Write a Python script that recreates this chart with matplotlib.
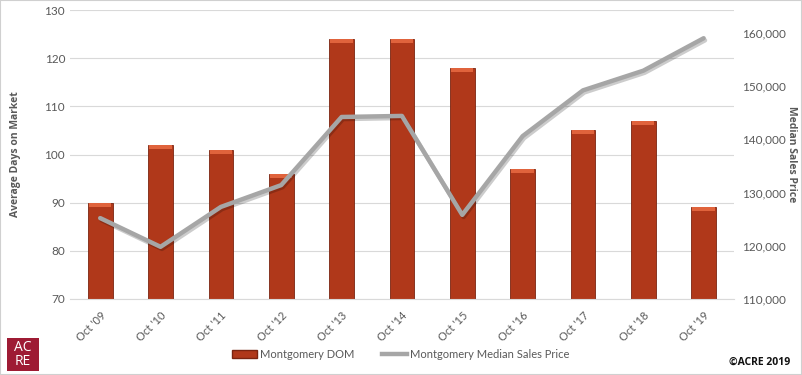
import numpy as np
import matplotlib.pyplot as plt
import matplotlib.patheffects as pe
from matplotlib.patches import Rectangle, Patch
from matplotlib.lines import Line2D
from matplotlib.ticker import FuncFormatter

# DATA
years = ["Oct '09", "Oct '10", "Oct '11", "Oct '12", "Oct '13", "Oct '14",
         "Oct '15", "Oct '16", "Oct '17", "Oct '18", "Oct '19"]
dom = [90, 102, 101, 96, 124, 124, 118, 97, 105, 107, 89]
median_price = [125200, 119800, 127300, 131400, 144200, 144400,
                125800, 140600, 149200, 152900, 159000]

plt.rcParams['font.family'] = ['Lato', 'DejaVu Sans']
txt = '#595959'
bar_col = '#B0381A'
bold_font = ['Open Sans', 'DejaVu Sans']

fig = plt.figure(figsize=(8.02, 3.75), dpi=100)
ax = fig.add_axes([0.0873, 0.2027, 0.8277, 0.7706])
x = np.arange(len(years))

ax.bar(x, dom, width=0.41, color=bar_col, edgecolor='#7A2410', linewidth=0.6, zorder=2)
# lighter bevel at the top of each bar
ax.bar(x, [0.8] * len(dom), bottom=np.array(dom) - 0.8, width=0.37,
       color='#E0633C', linewidth=0, zorder=2.5)
ax.set_ylim(70, 130)
ax.set_yticks(range(70, 131, 10))
ax.set_xlim(-0.5, len(years) - 0.5)
ax.grid(axis='y', color='#D9D9D9', linewidth=0.8, zorder=0)
ax.set_axisbelow(True)
for s in ['left', 'right', 'top']:
    ax.spines[s].set_visible(False)
ax.spines['bottom'].set_color('#D9D9D9')
ax.tick_params(length=0, colors=txt, labelsize=8.5)
ax.set_xticks(x)
ax.set_xticklabels(years, rotation=45, ha='right', rotation_mode='anchor', fontsize=8)
ax.tick_params(axis='x', pad=8)
ax.set_ylabel('Average Days on Market', color=txt, fontsize=7.5, fontweight='bold',
              family=bold_font, labelpad=17)

ax2 = ax.twinx()
ax2.plot(x, median_price, color='#A6A6A6', linewidth=3.2, solid_capstyle='round', zorder=3,
         path_effects=[pe.SimpleLineShadow(offset=(1, -1.5), alpha=0.2), pe.Normal()])
ax2.set_ylim(110000, 164300)
ax2.set_yticks(range(110000, 160001, 10000))
ax2.yaxis.set_major_formatter(FuncFormatter(lambda v, p: f'{int(v):,}'))
for s in ax2.spines.values():
    s.set_visible(False)
ax2.tick_params(length=0, colors=txt, labelsize=8.5, pad=6)
ax2.set_ylabel('Median Sales Price', color=txt, fontsize=7.5, fontweight='bold',
               family=bold_font, rotation=-90, labelpad=0, va='bottom')

handles = [Patch(facecolor=bar_col, edgecolor='#7A2410'),
           Line2D([0], [0], color='#A6A6A6', linewidth=3.2)]
fig.legend(handles, ['Montgomery DOM', 'Montgomery Median Sales Price'],
           loc='center', bbox_to_anchor=(0.5, 0.055), ncol=2, frameon=False,
           fontsize=8, labelcolor=txt, handlelength=2.2, columnspacing=2.5, handletextpad=0.3)

# logo and credit
fig.patches.append(Rectangle((7 / 802, 4 / 375), 32 / 802, 33 / 375, transform=fig.transFigure,
                             facecolor='#9E1B34', edgecolor='none'))
fig.text(23 / 802, 20.5 / 375, 'AC\nRE', color='white', ha='center', va='center',
         fontsize=10, linespacing=0.9, family=['Open Sans', 'DejaVu Sans'])
fig.text(790 / 802, 13 / 375, '©ACRE 2019', ha='right', va='center', fontsize=7.5,
         fontweight='bold', family=bold_font, color='#111111')
fig.patches.append(Rectangle((0, 0), 1, 1, transform=fig.transFigure, fill=False,
                             edgecolor='#D0D0D0', linewidth=1.5))

fig.savefig('out.png', dpi=100)
